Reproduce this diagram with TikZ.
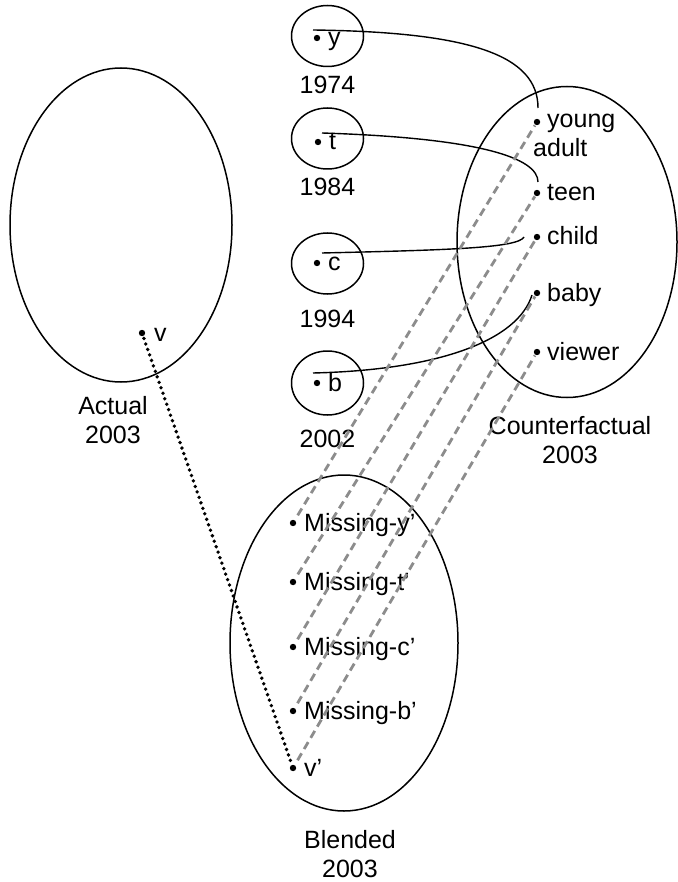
\documentclass[tikz,border=0pt]{standalone}
\usepackage{fontspec}
\setmainfont{Liberation Sans}
\usetikzlibrary{shapes.geometric}
\definecolor{mapgray}{RGB}{140,140,140}
\tikzset{
  space/.style={draw, ellipse, line width=1.5pt, inner sep=0pt},
  item/.style={anchor=base west, inner sep=0pt},
  lbl/.style={anchor=base, inner sep=0pt, align=center},
  link/.style={line width=1.4pt},
  map/.style={mapgray, line width=2.8pt, dash pattern=on 8pt off 5pt, shorten <=9pt, shorten >=4pt},
  vital/.style={line width=3.8pt, line cap=round, dash pattern=on 0pt off 5.8pt, shorten >=7pt}
}
\begin{document}
\begin{tikzpicture}[x=1pt, y=-1pt, font=\fontsize{25}{29}\selectfont]
        \useasboundingbox (0,0) rectangle (677,882);

        % Mental spaces
        \node[space, minimum width=222pt, minimum height=314pt] (actual) at (121,225) {};
        \node[space, minimum width=220pt, minimum height=311pt] (counter) at (567,242) {};
        \node[space, minimum width=228pt, minimum height=336pt] (blend) at (344,643) {};
        \node[space, minimum width=72pt, minimum height=61pt] (s74) at (327.5,36) {};
        \node[space, minimum width=72pt, minimum height=61pt] (s84) at (327.5,138.5) {};
        \node[space, minimum width=72pt, minimum height=61pt] (s94) at (327.5,263.5) {};
        \node[space, minimum width=72pt, minimum height=64pt] (s02) at (327.5,383) {};

        % Space labels
        \node[lbl] (l74) at (327.5,94) {1974};
        \node[lbl] (l84) at (327.5,196) {1984};
        \node[lbl] (l94) at (327.5,327) {1994};
        \node[lbl] (l02) at (327.5,447) {2002};
        \node[lbl] (lactual) at (113,443) {Actual\\2003};
        \node[lbl] (lcounter) at (570,463) {Counterfactual\\2003};
        \node[lbl] (lblend) at (350,877) {Blended\\2003};

        % Elements
        \coordinate (v) at (142,333);
        \coordinate (y) at (317,38);
        \coordinate (t) at (318,142);
        \coordinate (c) at (317,263);
        \coordinate (b) at (317,383);
        \coordinate (ya) at (537,122);
        \coordinate (te) at (537,193);
        \coordinate (ch) at (537,237);
        \coordinate (ba) at (537,293);
        \coordinate (vw) at (537,352);
        \coordinate (my) at (293,523);
        \coordinate (mt) at (293,582);
        \coordinate (mc) at (293,647);
        \coordinate (mb) at (293,711);
        \coordinate (vp) at (293,768);
        \foreach \p in {v,y,t,c,b,ya,te,ch,ba,vw,my,mt,mc,mb,vp}
          \fill (\p) circle (3.2);

        \node[item] (tv) at (154,341) {v};
        \node[item] (ty) at (328,46) {y};
        \node[item] (tt) at (329,150) {t};
        \node[item] (tc) at (328,271) {c};
        \node[item] (tb) at (328,391) {b};
        \node[item, align=left] (tya) at (533,157) {\hspace*{14pt}young\\adult};
        \node[item] (tte) at (547,201) {teen};
        \node[item] (tch) at (547,245) {child};
        \node[item] (tba) at (547,301) {baby};
        \node[item] (tvw) at (547,360) {viewer};
        \node[item] (tmy) at (304,531) {Missing-y’};
        \node[item] (tmt) at (304,590) {Missing-t’};
        \node[item] (tmc) at (304,655) {Missing-c’};
        \node[item] (tmb) at (304,719) {Missing-b’};
        \node[item] (tvp) at (304,776) {v’};

        % Role links
        \coordinate (ys) at (313,30);  \coordinate (ye) at (538,108);
        \coordinate (ts) at (322,133); \coordinate (tend) at (538,182);
        \coordinate (cs) at (322,253); \coordinate (ce) at (524,237);
        \coordinate (bs) at (313,373); \coordinate (be) at (532,295);
        \draw[link] (ys) .. controls (470,32) and (538,55) .. (ye);
        \draw[link] (ts) .. controls (480,138) and (538,158) .. (tend);
        \draw[link] (cs) .. controls (450,250) and (518,248) .. (ce);
        \draw[link] (bs) .. controls (440,370) and (518,340) .. (be);

        % Blend projections
        \foreach \a/\b in {my/ya, mt/te, mc/ch, mb/ba, vp/vw}
          \draw[map] (\a) -- (\b);

        % Vital relation
        \draw[vital] (v) -- (vp);
\end{tikzpicture}
\end{document}
